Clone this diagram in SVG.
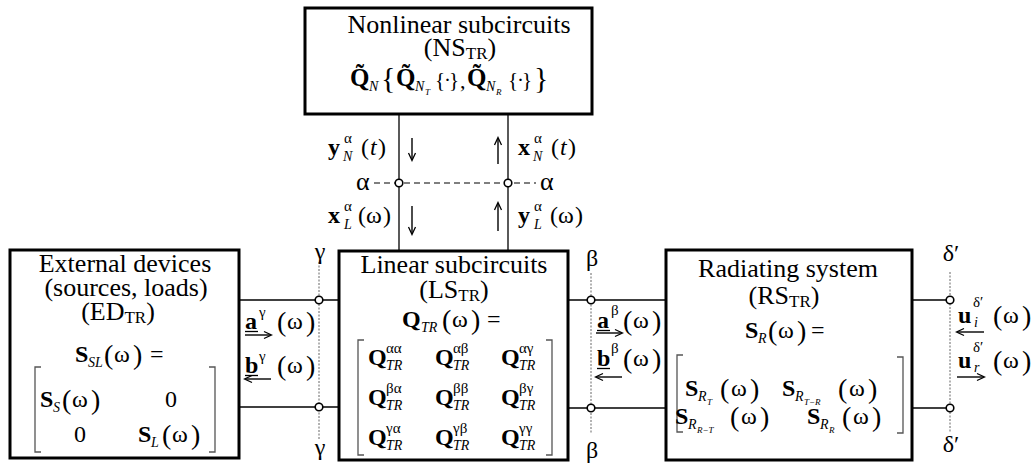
<svg xmlns="http://www.w3.org/2000/svg" width="1035" height="466" viewBox="0 0 1035 466">
<style>
.box{fill:#fff;stroke:#000;stroke-width:3}
text{font-family:"Liberation Serif","Times New Roman",serif;fill:#000}
.ti{font-size:26px;text-anchor:middle}
.m{font-size:24px}
.b{font-weight:bold}
.i{font-style:italic}
.wire{stroke:#000;stroke-width:1.3;fill:none}
.dot{stroke:#666;stroke-width:1;stroke-dasharray:2 1.5;fill:none}
.dash{stroke:#000;stroke-width:1.2;stroke-dasharray:6 4;fill:none}
.node{fill:#fff;stroke:#000;stroke-width:1.6}
.br{fill:none;stroke:#555;stroke-width:1.3}
.arr{stroke:#000;stroke-width:1.4;fill:none;marker-end:url(#ah)}
.sup{font-size:15px}
.sub{font-size:14px;font-style:italic}
.ss{font-size:9px;font-style:italic}
.p{font-size:28px}
.g{font-size:24px;text-anchor:middle}
</style>
<defs>
  <marker id="ah" markerWidth="10" markerHeight="10" refX="8" refY="5" orient="auto" markerUnits="userSpaceOnUse">
    <path d="M1,1.5 L8.5,5 L1,8.5" fill="none" stroke="#000" stroke-width="1.3"/>
  </marker>
</defs>

<g id="connectors">
  <line class="wire" x1="399" y1="114" x2="399" y2="251"/>
  <line class="wire" x1="508" y1="114" x2="508" y2="251"/>
  <line class="dash" x1="374" y1="183" x2="536" y2="183"/>
  <line class="wire" x1="239" y1="300" x2="339" y2="300"/>
  <line class="wire" x1="239" y1="407" x2="339" y2="407"/>
  <line class="wire" x1="568" y1="300" x2="666" y2="300"/>
  <line class="wire" x1="568" y1="408" x2="666" y2="408"/>
  <line class="wire" x1="912" y1="300" x2="950" y2="300"/>
  <line class="wire" x1="912" y1="408" x2="950" y2="408"/>
  <line class="dot" x1="319" y1="262" x2="319" y2="440"/>
  <line class="dot" x1="591" y1="273" x2="591" y2="434"/>
  <line class="dot" x1="950" y1="272" x2="950" y2="433"/>
  <circle class="node" cx="399" cy="183" r="3.8"/>
  <circle class="node" cx="508" cy="183" r="3.8"/>
  <circle class="node" cx="319" cy="300" r="3.8"/>
  <circle class="node" cx="319" cy="407" r="3.8"/>
  <circle class="node" cx="591" cy="300" r="3.8"/>
  <circle class="node" cx="591" cy="408" r="3.8"/>
  <circle class="node" cx="950" cy="300" r="3.8"/>
  <circle class="node" cx="950" cy="408" r="3.8"/>
</g>

<g id="NS">
  <rect class="box" x="305" y="8" width="287" height="106"/>
  <text class="ti" x="459" y="33">Nonlinear subcircuits</text>
  <text class="ti" x="460" y="56">(NS<tspan font-size="17" dy="3">TR</tspan><tspan dy="-3">)</tspan></text>
  <text class="m">
    <tspan class="b" x="350" y="86" font-size="25">Q&#x303;</tspan>
    <tspan class="sub" x="369" y="91">N</tspan>
    <tspan font-size="30" x="381" y="88">{</tspan>
    <tspan class="b" x="396" y="86" font-size="25">Q&#x303;</tspan>
    <tspan class="sub" x="415" y="91">N</tspan>
    <tspan class="ss" x="425" y="95">T</tspan>
    <tspan font-size="21" x="435" y="87">{</tspan><tspan font-size="21" x="444" y="87">·</tspan><tspan font-size="21" x="449" y="87">}</tspan>
    <tspan font-size="22" x="460" y="88">,</tspan>
    <tspan class="b" x="467" y="86" font-size="25">Q&#x303;</tspan>
    <tspan class="sub" x="486" y="91">N</tspan>
    <tspan class="ss" x="496" y="95">R</tspan>
    <tspan font-size="21" x="508" y="87">{</tspan><tspan font-size="21" x="517" y="87">·</tspan><tspan font-size="21" x="522" y="87">}</tspan>
    <tspan font-size="30" x="534" y="88">}</tspan>
  </text>
</g>

<g id="ED">
  <rect class="box" x="10" y="250" width="229" height="208"/>
  <text class="ti" x="125" y="272">External devices</text>
  <text class="ti" x="126" y="296">(sources, loads)</text>
  <text class="ti" x="118" y="320">(ED<tspan font-size="17" dy="3">TR</tspan><tspan dy="-3">)</tspan></text>
  <text class="m">
    <tspan class="b" x="75" y="362">S</tspan><tspan class="sub" x="88" y="367">SL</tspan>
    <tspan class="p" x="104" y="364">(</tspan><tspan x="114" y="362">ω</tspan><tspan class="p" x="133" y="364">)</tspan>
    <tspan x="150" y="362">=</tspan>
  </text>
  <path class="br" d="M41,367 H35 V452 H41 M209,367 H215 V452 H209"/>
  <text class="m">
    <tspan class="b" x="40" y="407">S</tspan><tspan class="sub" x="53" y="412">S</tspan>
    <tspan class="p" x="62" y="409">(</tspan><tspan x="72" y="407">ω</tspan><tspan class="p" x="91" y="409">)</tspan>
    <tspan x="165" y="407">0</tspan>
    <tspan x="74" y="442">0</tspan>
    <tspan class="b" x="138" y="442">S</tspan><tspan class="sub" x="151" y="447">L</tspan>
    <tspan class="p" x="162" y="444">(</tspan><tspan x="172" y="442">ω</tspan><tspan class="p" x="191" y="444">)</tspan>
  </text>
</g>

<g id="LS">
  <rect class="box" x="339" y="251" width="229" height="209"/>
  <text class="ti" x="454" y="273">Linear subcircuits</text>
  <text class="ti" x="454" y="298">(LS<tspan font-size="17" dy="3">TR</tspan><tspan dy="-3">)</tspan></text>
  <text class="m">
    <tspan class="b" x="402" y="327">Q</tspan><tspan class="sub" x="421" y="332">TR</tspan>
    <tspan class="p" x="442" y="329">(</tspan><tspan x="452" y="327">ω</tspan><tspan class="p" x="471" y="329">)</tspan>
    <tspan x="487" y="327">=</tspan>
  </text>
  <path class="br" d="M364,340 H358 V455 H364 M546,340 H552 V455 H546"/>
  <text class="m">
    <tspan class="b" x="368" y="365">Q</tspan><tspan class="sup" x="386" y="353">αα</tspan><tspan class="sub" x="386" y="370">TR</tspan>
    <tspan class="b" x="435" y="365">Q</tspan><tspan class="sup" x="453" y="353">αβ</tspan><tspan class="sub" x="453" y="370">TR</tspan>
    <tspan class="b" x="501" y="365">Q</tspan><tspan class="sup" x="519" y="353">αγ</tspan><tspan class="sub" x="519" y="370">TR</tspan>
    <tspan class="b" x="368" y="405">Q</tspan><tspan class="sup" x="386" y="393">βα</tspan><tspan class="sub" x="386" y="410">TR</tspan>
    <tspan class="b" x="435" y="405">Q</tspan><tspan class="sup" x="453" y="393">ββ</tspan><tspan class="sub" x="453" y="410">TR</tspan>
    <tspan class="b" x="501" y="405">Q</tspan><tspan class="sup" x="519" y="393">βγ</tspan><tspan class="sub" x="519" y="410">TR</tspan>
    <tspan class="b" x="368" y="445">Q</tspan><tspan class="sup" x="386" y="433">γα</tspan><tspan class="sub" x="386" y="450">TR</tspan>
    <tspan class="b" x="435" y="445">Q</tspan><tspan class="sup" x="453" y="433">γβ</tspan><tspan class="sub" x="453" y="450">TR</tspan>
    <tspan class="b" x="501" y="445">Q</tspan><tspan class="sup" x="519" y="433">γγ</tspan><tspan class="sub" x="519" y="450">TR</tspan>
  </text>
</g>

<g id="RS">
  <rect class="box" x="666" y="250" width="246" height="210"/>
  <text class="ti" x="788" y="277">Radiating system</text>
  <text class="ti" x="784" y="304">(RS<tspan font-size="17" dy="3">TR</tspan><tspan dy="-3">)</tspan></text>
  <text class="m">
    <tspan class="b" x="745" y="338">S</tspan><tspan class="sub" x="758" y="343">R</tspan>
    <tspan class="p" x="768" y="340">(</tspan><tspan x="778" y="338">ω</tspan><tspan class="p" x="797" y="340">)</tspan>
    <tspan x="811" y="338">=</tspan>
  </text>
  <path class="br" d="M683,355 H677 V432 H683 M897,357 H903 V433 H897"/>
  <text class="m">
    <tspan class="b" x="685" y="396">S</tspan><tspan class="sub" x="698" y="401">R</tspan><tspan class="ss" x="707" y="405">T</tspan>
    <tspan class="p" x="720" y="398">(</tspan><tspan x="731" y="396">ω</tspan><tspan class="p" x="750" y="398">)</tspan>
    <tspan class="b" x="782" y="396">S</tspan><tspan class="sub" x="795" y="401">R</tspan><tspan class="ss" x="804" y="405">T−R</tspan>
    <tspan class="p" x="838" y="398">(</tspan><tspan x="849" y="396">ω</tspan><tspan class="p" x="868" y="398">)</tspan>
    <tspan class="b" x="675" y="424">S</tspan><tspan class="sub" x="688" y="429">R</tspan><tspan class="ss" x="697" y="433">R−T</tspan>
    <tspan class="p" x="730" y="426">(</tspan><tspan x="741" y="424">ω</tspan><tspan class="p" x="760" y="426">)</tspan>
    <tspan class="b" x="807" y="424">S</tspan><tspan class="sub" x="820" y="429">R</tspan><tspan class="ss" x="829" y="433">R</tspan>
    <tspan class="p" x="842" y="426">(</tspan><tspan x="853" y="424">ω</tspan><tspan class="p" x="872" y="426">)</tspan>
  </text>
</g>

<g id="labels">
  <text class="g" x="320" y="259">γ</text>
  <text class="g" x="320" y="455">γ</text>
  <text class="g" x="592" y="266">β</text>
  <text class="g" x="592" y="458">β</text>
  <text class="g" x="951" y="261">δ′</text>
  <text class="g" x="951" y="452">δ′</text>
  <text font-size="26" x="356" y="190">α</text>
  <text font-size="26" x="540" y="190">α</text>

  <text class="m">
    <tspan class="b" x="328" y="155">y</tspan><tspan class="sup" x="344" y="143">α</tspan><tspan class="sub" x="343" y="161">N</tspan>
    <tspan x="361" y="155">(</tspan><tspan class="i" x="370" y="155">t</tspan><tspan x="378" y="155">)</tspan>
  </text>
  <text class="m">
    <tspan class="b" x="518" y="155">x</tspan><tspan class="sup" x="534" y="143">α</tspan><tspan class="sub" x="533" y="161">N</tspan>
    <tspan x="551" y="155">(</tspan><tspan class="i" x="560" y="155">t</tspan><tspan x="568" y="155">)</tspan>
  </text>
  <text class="m">
    <tspan class="b" x="328" y="223">x</tspan><tspan class="sup" x="344" y="211">α</tspan><tspan class="sub" x="344" y="229">L</tspan>
    <tspan x="358" y="223">(</tspan><tspan x="366" y="223">ω</tspan><tspan x="383" y="223">)</tspan>
  </text>
  <text class="m">
    <tspan class="b" x="518" y="223">y</tspan><tspan class="sup" x="534" y="211">α</tspan><tspan class="sub" x="534" y="229">L</tspan>
    <tspan x="550" y="223">(</tspan><tspan x="558" y="223">ω</tspan><tspan x="575" y="223">)</tspan>
  </text>
  <line class="arr" x1="412" y1="138" x2="412" y2="160"/>
  <line class="arr" x1="498" y1="164" x2="498" y2="138"/>
  <line class="arr" x1="412" y1="206" x2="412" y2="234"/>
  <line class="arr" x1="498" y1="231" x2="498" y2="203"/>

  <text class="m">
    <tspan class="b" x="245" y="329">a</tspan><tspan class="sup" x="259" y="317">γ</tspan>
    <tspan class="p" x="277" y="331">(</tspan><tspan x="287" y="329">ω</tspan><tspan class="p" x="306" y="331">)</tspan>
  </text>
  <line class="wire" x1="245" y1="331.5" x2="258" y2="331.5"/>
  <line class="arr" x1="245" y1="335" x2="271" y2="335"/>
  <text class="m">
    <tspan class="b" x="245" y="373">b</tspan><tspan class="sup" x="259" y="361">γ</tspan>
    <tspan class="p" x="277" y="375">(</tspan><tspan x="287" y="373">ω</tspan><tspan class="p" x="306" y="375">)</tspan>
  </text>
  <line class="wire" x1="245" y1="375.5" x2="258" y2="375.5"/>
  <line class="arr" x1="271" y1="379" x2="245" y2="379"/>

  <text class="m">
    <tspan class="b" x="597" y="328">a</tspan><tspan class="sup" x="611" y="315">β</tspan>
    <tspan class="p" x="623" y="330">(</tspan><tspan x="633" y="328">ω</tspan><tspan class="p" x="652" y="330">)</tspan>
  </text>
  <line class="wire" x1="597" y1="330.5" x2="610" y2="330.5"/>
  <line class="arr" x1="596" y1="333" x2="622" y2="333"/>
  <text class="m">
    <tspan class="b" x="597" y="366">b</tspan><tspan class="sup" x="611" y="353">β</tspan>
    <tspan class="p" x="623" y="368">(</tspan><tspan x="633" y="366">ω</tspan><tspan class="p" x="652" y="368">)</tspan>
  </text>
  <line class="wire" x1="597" y1="368.5" x2="610" y2="368.5"/>
  <line class="arr" x1="622" y1="377" x2="596" y2="377"/>

  <text class="m">
    <tspan class="b" x="958" y="323">u</tspan><tspan class="sup" x="973" y="307">δ′</tspan><tspan class="sub" x="974" y="327">i</tspan>
    <tspan class="p" x="993" y="325">(</tspan><tspan x="1003" y="323">ω</tspan><tspan class="p" x="1022" y="325">)</tspan>
  </text>
  <line class="arr" x1="984" y1="332" x2="957" y2="332"/>
  <text class="m">
    <tspan class="b" x="958" y="368">u</tspan><tspan class="sup" x="973" y="352">δ′</tspan><tspan class="sub" x="974" y="372">r</tspan>
    <tspan class="p" x="993" y="370">(</tspan><tspan x="1003" y="368">ω</tspan><tspan class="p" x="1022" y="370">)</tspan>
  </text>
  <line class="arr" x1="957" y1="377" x2="984" y2="377"/>
</g>
</svg>
